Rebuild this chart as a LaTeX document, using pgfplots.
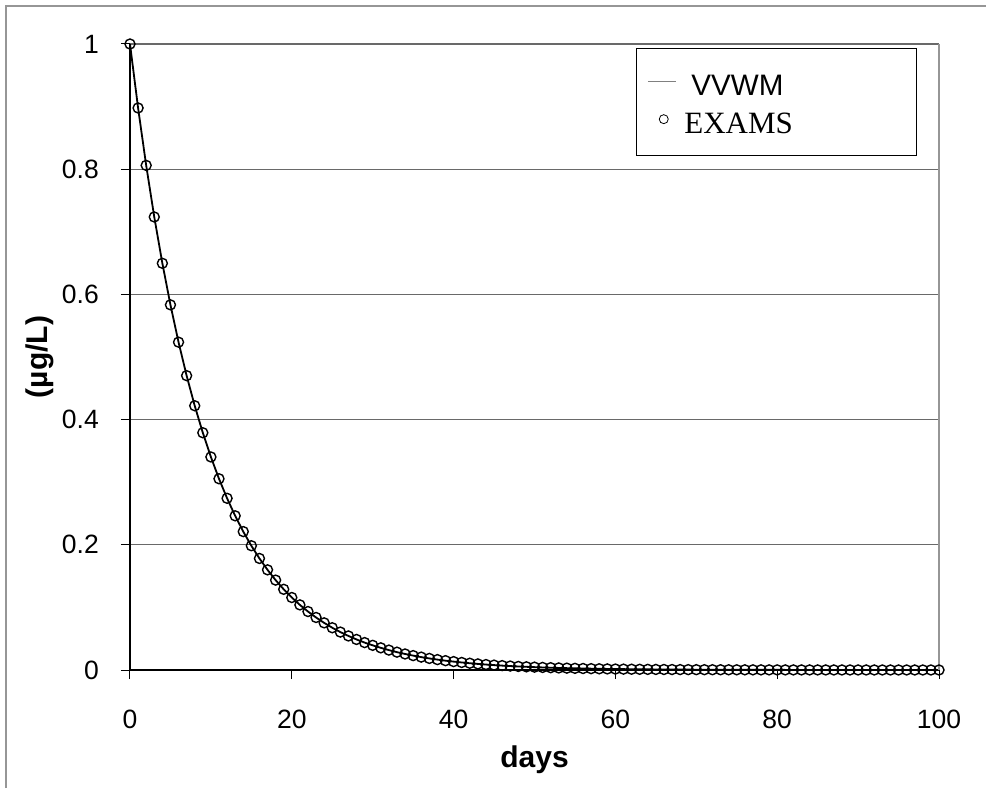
\documentclass[border=0pt]{standalone}
\usepackage{pgfplots}
\pgfplotsset{compat=1.18}
\usepackage{pgfplotstable}
\usepackage{fontspec}
\setmainfont{Liberation Sans}
\newfontfamily\timesfont{Liberation Serif}
\definecolor{gridgray}{RGB}{105,105,105}
\definecolor{bordergray}{RGB}{150,150,150}

\pgfplotstableread{
t c
0 1
1 0.8978
2 0.8061
3 0.7237
4 0.6497
5 0.5833
6 0.5237
7 0.4702
8 0.4221
9 0.3790
10 0.3403
11 0.3055
12 0.2743
13 0.2463
14 0.2211
15 0.1985
16 0.1782
17 0.1600
18 0.1436
19 0.1289
20 0.1158
21 0.1040
22 0.0934
23 0.0839
24 0.0753
25 0.0675
26 0.0606
27 0.0544
28 0.0488
29 0.0438
30 0.0394
31 0.0354
32 0.0318
33 0.0285
34 0.0256
35 0.0230
36 0.0206
37 0.0185
38 0.0166
39 0.0149
40 0.01341
41 0.01204
42 0.01081
43 0.00970
44 0.00871
45 0.00782
46 0.00702
47 0.00630
48 0.00566
49 0.00508
50 0.00456
51 0.00410
52 0.00368
53 0.00330
54 0.00296
55 0.00266
56 0.00239
57 0.00215
58 0.00193
59 0.00173
60 0.00155
61 0.00139
62 0.00125
63 0.00112
64 0.00101
65 0.000905
66 0.000813
67 0.000730
68 0.000655
69 0.000588
70 0.000528
71 0.000474
72 0.000426
73 0.000382
74 0.000343
75 0.000308
76 0.000277
77 0.000248
78 0.000223
79 0.000200
80 0.000180
81 0.000162
82 0.000145
83 0.000130
84 0.000117
85 0.000105
86 0.0000943
87 0.0000847
88 0.0000760
89 0.0000682
90 0.0000612
91 0.0000550
92 0.0000494
93 0.0000443
94 0.0000398
95 0.0000357
96 0.0000321
97 0.0000288
98 0.0000259
99 0.0000232
100 0.0000208
}\datatable

\begin{document}
\begin{tikzpicture}
\useasboundingbox (0,0) rectangle (986pt,788pt);
\fill[white] (0,0) rectangle (986pt,788pt);
\draw[bordergray, line width=1.2pt] (6pt,0) -- (6pt,782pt) -- (986pt,782pt);
\begin{axis}[
  at={(130pt,118pt)}, anchor=south west,
  scale only axis, width=809pt, height=626pt,
  xmin=0, xmax=100, ymin=0, ymax=1,
  xtick={0,20,40,60,80,100},
  ytick={0,0.2,0.4,0.6,0.8,1},
  axis x line=bottom, axis y line=left,
  axis line style={black, line width=2pt, -},
  tick align=outside, major tick length=9pt,
  tick style={black, line width=1pt},
  ymajorgrids,
  major grid style={gridgray, line width=1.2pt},
  /pgf/number format/assume math mode=true,
  tick label style={font=\fontsize{26.5}{30}\selectfont, black},
  yticklabel style={anchor=east, inner sep=0pt, xshift=-22pt},
  xticklabel style={anchor=base, inner sep=0pt, yshift=-49pt},
  xlabel={\textbf{days}},
  ylabel={\textbf{(µg/L)}},
  label style={font=\fontsize{30}{34}\selectfont},
  xlabel style={at={(axis description cs:0.5,-0.1438)}, anchor=center},
  ylabel style={at={(axis description cs:-0.111,0.5)}, anchor=center},
  clip=false,
  legend style={at={(rel axis cs:0.639,0.9633)}, anchor=north west,
    draw=none, fill=none, inner sep=0pt, row sep=10pt, column sep=15pt,
    font=\fontsize{29.6}{32}\selectfont,
    nodes={inner sep=0pt, text height=28pt, text depth=0pt}},
  legend cell align=left,
]
\addplot[black, line width=1.8pt, no marks,
  legend image code/.code={\draw[gray, line width=1.2pt] (0pt,0pt) -- (28pt,0pt);}]
  table[x=t, y=c] {\datatable};
\addlegendentry{VVWM}
\addplot[only marks, mark=o, mark size=5pt, mark options={black, line width=1.4pt, fill=none},
  legend image code/.code={\draw[black, line width=0.8pt] (16pt,0pt) circle (4.5pt);}]
  table[x=t, y=c] {\datatable};
\addlegendentry{\hspace*{-7pt}{\timesfont\fontsize{31}{34}\selectfont EXAMS}}
\draw[bordergray, line width=1.5pt] (rel axis cs:1,0) -- (rel axis cs:1,1);
\end{axis}
\draw[black, line width=1pt] (636pt,632pt) rectangle (916pt,739pt);
\end{tikzpicture}
\end{document}
